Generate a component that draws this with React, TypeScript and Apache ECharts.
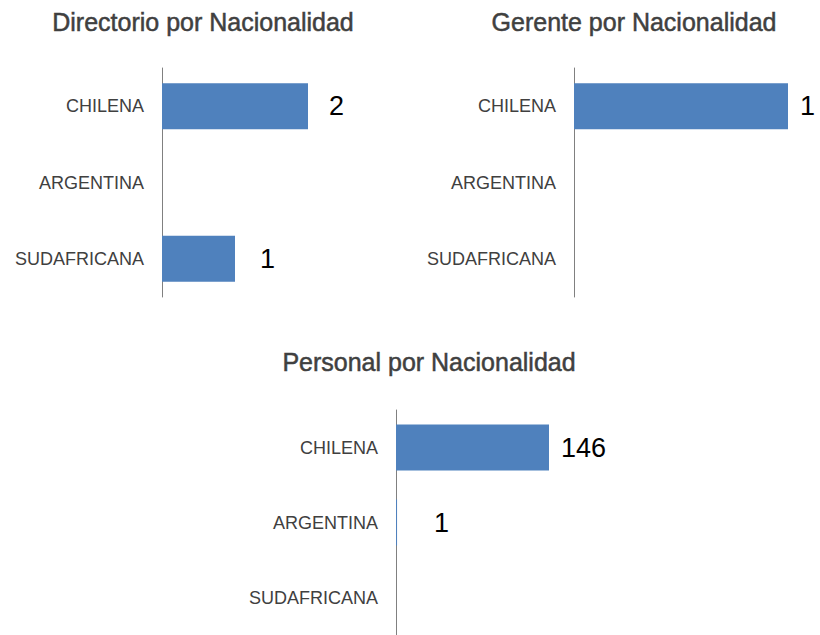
import React, { useEffect, useRef } from 'react';
import * as echarts from 'echarts';

const categories = ['CHILENA', 'ARGENTINA', 'SUDAFRICANA'];
const titles = ['Directorio por Nacionalidad', 'Gerente por Nacionalidad', 'Personal por Nacionalidad'];
const directorioValues = [2, 0, 1];
const gerenteValues = [1, 0, 0];
const personalValues = [146, 1, 0];

// label gaps (layout only)
const directorioLabelGap = [21, 0, 25];
const gerenteLabelGap = [12, 0, 0];
const personalLabelGap = [12, 37, 0];

const BAR = '#4f81bd';
const TEXT = '#404040';
const FONT = 'Liberation Sans, Arial, sans-serif';

export default function App() {
  const ref = useRef<HTMLDivElement>(null);
  useEffect(() => {
    document.body.style.margin = '0';
    if (!ref.current) return;
    const chart = echarts.init(ref.current, undefined, { renderer: 'svg' });

    const panels = [
      { values: directorioValues, gaps: directorioLabelGap, max: 2, grid: { left: 162, top: 68, width: 146, height: 229 }, title: { x: 203, y: 22 } },
      { values: gerenteValues, gaps: gerenteLabelGap, max: 1, grid: { left: 574, top: 68, width: 214, height: 229 }, title: { x: 634, y: 22 } },
      { values: personalValues, gaps: personalLabelGap, max: 146, grid: { left: 396, top: 410, width: 153, height: 228 }, title: { x: 429, y: 362 } },
    ];

    chart.setOption({
      animation: false,
      backgroundColor: '#ffffff',
      grid: panels.map((p) => ({ ...p.grid, containLabel: false })),
      xAxis: panels.map((p, i) => ({
        type: 'value',
        gridIndex: i,
        min: 0,
        max: p.max,
        show: false,
      })),
      yAxis: panels.map((p, i) => ({
        type: 'category',
        gridIndex: i,
        inverse: true,
        data: categories,
        axisLine: { show: true, lineStyle: { color: '#808080', width: 1 } },
        axisTick: { show: false },
        splitLine: { show: false },
        axisLabel: { fontSize: 18, color: TEXT, margin: 18, fontFamily: FONT },
      })),
      series: panels.map((p, i) => ({
        type: 'bar',
        xAxisIndex: i,
        yAxisIndex: i,
        barWidth: 46,
        itemStyle: { color: BAR },
        label: {
          show: true,
          position: 'right',
          fontSize: 27,
          color: '#000000',
          fontFamily: FONT,
          formatter: (d: any) => (d.value > 0 ? String(d.value) : ''),
        },
        data: p.values.map((v, j) => ({ value: v, label: { distance: p.gaps[j] } })),
      })),
      graphic: panels.map((p, i) => ({
        type: 'text',
        x: p.title.x,
        y: p.title.y,
        style: {
          text: titles[i],
          fontSize: 25,
          fontFamily: FONT,
          fill: TEXT,
          stroke: TEXT,
          lineWidth: 0.5,
          textAlign: 'center',
          textVerticalAlign: 'middle',
        },
      })),
    });
    return () => chart.dispose();
  }, []);
  return <div ref={ref} style={{ width: 820, height: 635 }} />;
}
